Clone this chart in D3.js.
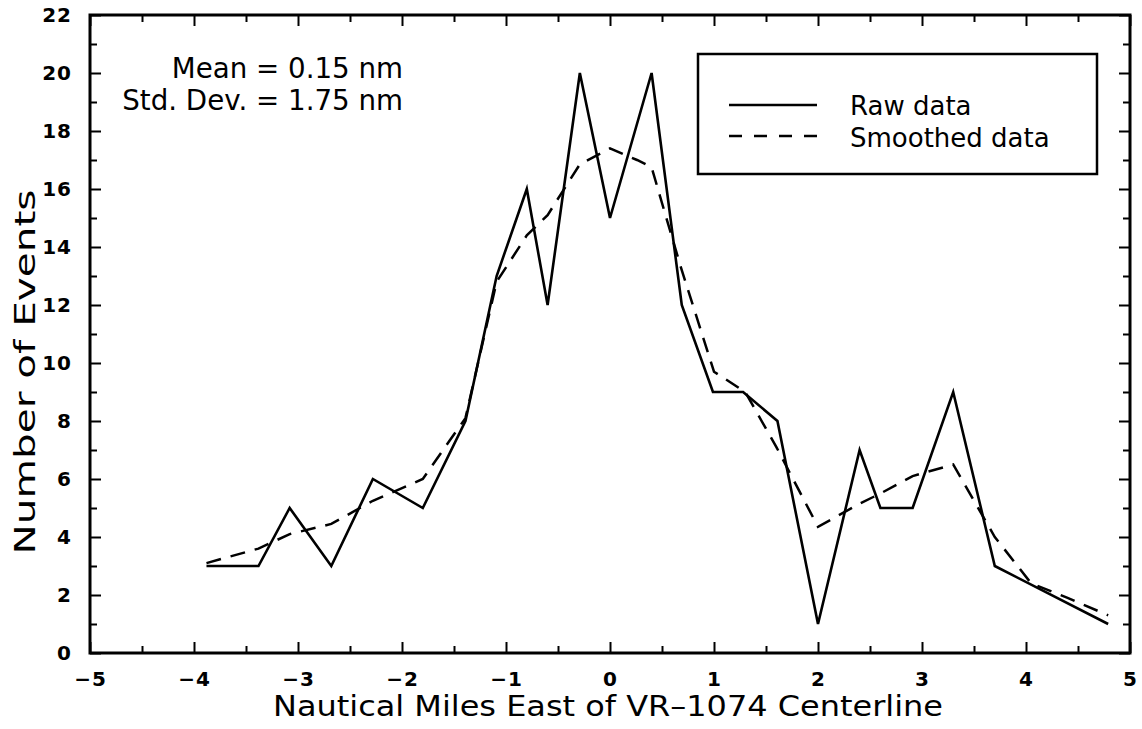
<!DOCTYPE html>
<html>
<head>
<meta charset="utf-8">
<script src="https://cdn.jsdelivr.net/npm/d3@7"></script>
<style>
  html, body { margin: 0; padding: 0; background: #fff; }
  svg { display: block; }
  text { font-family: "DejaVu Sans", "Liberation Sans", sans-serif; fill: #000; }
</style>
</head>
<body>
<svg id="chart" width="1142" height="729"></svg>
<script>
// ---- data ----
const rawX = [-3.88,-3.38,-3.08,-2.68,-2.28,-1.80,-1.39,-1.09,-0.80,-0.60,-0.29,0.00,0.40,0.69,0.99,1.28,1.61,2.00,2.40,2.60,2.91,3.30,3.70,4.79];
const rawY = [3,3,5,3,6,5,8,13,16,12,20,15,20,12,9,9,8,1,7,5,5,9,3,1];
const smoothX = [-3.88,-3.38,-3.08,-2.68,-2.28,-1.80,-1.39,-1.09,-0.80,-0.60,-0.29,0.00,0.26,0.40,0.55,0.69,1.00,1.30,1.60,2.00,2.40,2.60,2.91,3.30,3.70,4.05,4.40,4.79];
const smoothY = [3.1,3.6,4.1,4.45,5.25,6.0,8.1,12.8,14.4,15.1,16.85,17.4,17.0,16.75,14.9,13.2,9.7,9.0,7.1,4.35,5.15,5.5,6.1,6.5,4.0,2.4,1.9,1.3];
const xTicks = [-5,-4,-3,-2,-1,0,1,2,3,4,5];
const yTicks = [0,2,4,6,8,10,12,14,16,18,20,22];
const seriesNames = ["Raw data", "Smoothed data"];
const annotations = ["Mean = 0.15 nm", "Std. Dev. = 1.75 nm"];
const xTitle = "Nautical Miles East of VR\u20131074 Centerline";
const yTitle = "Number of Events";

// ---- layout ----
const L = 90, R = 1130, T = 15, B = 653;
const svg = d3.select("#chart");
const x = d3.scaleLinear().domain([-5, 5]).range([L, R]);
const y = d3.scaleLinear().domain([0, 22]).range([B, T]);

const majorLen = 11, minorLen = 7;
const axisW = 3;

// minor tick values
const xMinor = d3.range(-4.5, 5, 1);
const yMinor = d3.range(1, 22, 2);

// bottom axis (ticks inward)
svg.append("g").attr("transform", `translate(0,${B})`)
  .call(d3.axisBottom(x).tickValues(xTicks).tickSize(-majorLen).tickPadding(majorLen + 8).tickFormat(d => d < 0 ? "\u2212" + Math.abs(d) : d));
svg.append("g").attr("transform", `translate(0,${B})`)
  .call(d3.axisBottom(x).tickValues(xMinor).tickSize(-minorLen).tickFormat(""));
// top axis
svg.append("g").attr("transform", `translate(0,${T})`)
  .call(d3.axisTop(x).tickValues(xTicks).tickSize(-majorLen).tickFormat(""));
svg.append("g").attr("transform", `translate(0,${T})`)
  .call(d3.axisTop(x).tickValues(xMinor).tickSize(-minorLen).tickFormat(""));
// left axis
svg.append("g").attr("transform", `translate(${L},0)`)
  .call(d3.axisLeft(y).tickValues(yTicks).tickSize(-majorLen).tickPadding(majorLen + 7));
svg.append("g").attr("transform", `translate(${L},0)`)
  .call(d3.axisLeft(y).tickValues(yMinor).tickSize(-minorLen).tickFormat(""));
// right axis
svg.append("g").attr("transform", `translate(${R},0)`)
  .call(d3.axisRight(y).tickValues(yTicks).tickSize(-majorLen).tickFormat(""));
svg.append("g").attr("transform", `translate(${R},0)`)
  .call(d3.axisRight(y).tickValues(yMinor).tickSize(-minorLen).tickFormat(""));

svg.selectAll(".domain").remove();
svg.selectAll(".tick line").attr("stroke", "#000").attr("stroke-width", 2);
svg.selectAll(".tick text").attr("font-family", "'DejaVu Sans', sans-serif")
  .attr("font-weight", "bold").attr("font-size", 20).attr("letter-spacing", 1).attr("fill", "#000");

// frame
svg.append("rect").attr("x", L).attr("y", T).attr("width", R - L).attr("height", B - T)
  .attr("fill", "none").attr("stroke", "#000").attr("stroke-width", axisW);

// lines
const pts = (xs, ys) => xs.map((d, i) => [d, ys[i]]);
const line = d3.line().x(d => x(d[0])).y(d => y(d[1]));
svg.append("path").datum(pts(smoothX, smoothY)).attr("d", line)
  .attr("fill", "none").attr("stroke", "#000").attr("stroke-width", 2.5)
  .attr("stroke-dasharray", "15,10");
svg.append("path").datum(pts(rawX, rawY)).attr("d", line)
  .attr("fill", "none").attr("stroke", "#000").attr("stroke-width", 2.6)
  .attr("stroke-linejoin", "miter");

// annotations
svg.append("text").attr("x", 403).attr("y", 78).attr("text-anchor", "end")
  .attr("font-size", 27.7).text(annotations[0]);
svg.append("text").attr("x", 403).attr("y", 110).attr("text-anchor", "end")
  .attr("font-size", 27.7).text(annotations[1]);

// legend
svg.append("rect").attr("x", 698).attr("y", 54).attr("width", 399).attr("height", 120)
  .attr("fill", "#fff").attr("stroke", "#000").attr("stroke-width", 2.5);
svg.append("line").attr("x1", 729).attr("x2", 817).attr("y1", 105).attr("y2", 105)
  .attr("stroke", "#000").attr("stroke-width", 2.5);
svg.append("line").attr("x1", 729).attr("x2", 817).attr("y1", 136).attr("y2", 136)
  .attr("stroke", "#000").attr("stroke-width", 2.5).attr("stroke-dasharray", "13,12");
svg.append("text").attr("x", 850).attr("y", 115).attr("font-size", 26).text(seriesNames[0]);
svg.append("text").attr("x", 850).attr("y", 147).attr("font-size", 26).text(seriesNames[1]);

// axis titles
svg.append("text").attr("x", 608).attr("y", 716).attr("text-anchor", "middle")
  .attr("font-size", 28).attr("textLength", 670).attr("lengthAdjust", "spacingAndGlyphs").text(xTitle);
svg.append("text").attr("transform", "translate(35,372) rotate(-90)").attr("text-anchor", "middle")
  .attr("font-size", 28).attr("textLength", 365).attr("lengthAdjust", "spacingAndGlyphs").text(yTitle);
</script>
</body>
</html>
